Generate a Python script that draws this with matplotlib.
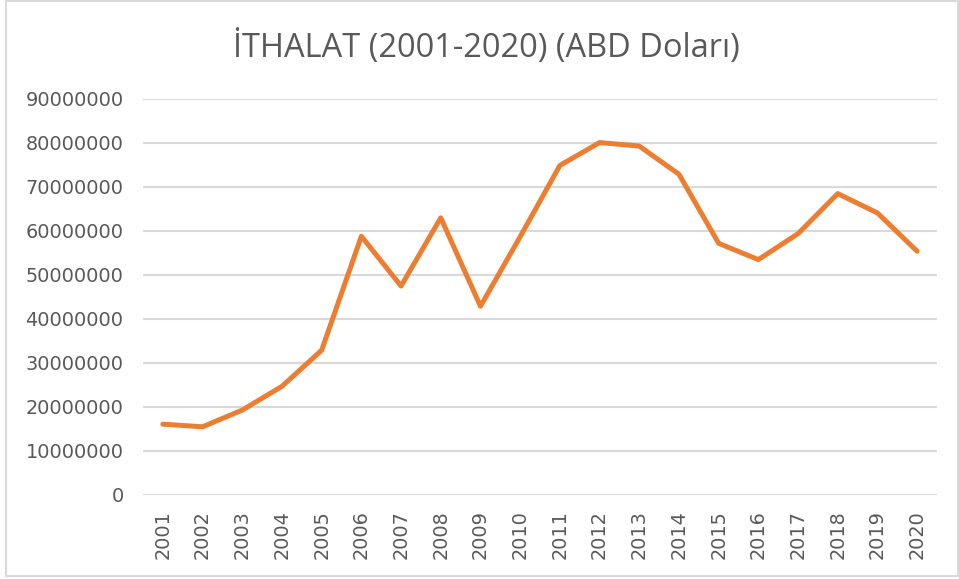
import matplotlib
matplotlib.use("Agg")
import matplotlib.pyplot as plt
from matplotlib.patches import Rectangle

years = ["2001", "2002", "2003", "2004", "2005", "2006", "2007", "2008", "2009", "2010",
         "2011", "2012", "2013", "2014", "2015", "2016", "2017", "2018", "2019", "2020"]
imports = [16100000, 15500000, 19300000, 24700000, 32900000, 58800000, 47500000, 63000000,
           42900000, 58700000, 74900000, 80100000, 79300000, 72900000, 57200000, 53500000,
           59400000, 68500000, 64100000, 55400000]
yticks = [0, 10000000, 20000000, 30000000, 40000000, 50000000, 60000000, 70000000, 80000000, 90000000]
title = "İTHALAT (2001-2020) (ABD Doları)"

W, H = 959, 579
fig = plt.figure(figsize=(W / 100, H / 100), dpi=100)
fig.patch.set_facecolor("white")

left, right, top, bottom = 143, 937, 99, 495
ax = fig.add_axes([left / W, 1 - bottom / H, (right - left) / W, (bottom - top) / H])

x = list(range(len(years)))
ax.plot(x, imports, color="#ED7D31", linewidth=3.6, solid_joinstyle="round", solid_capstyle="round", zorder=3)

ax.set_xlim(-0.5, len(years) - 0.5)
ax.set_ylim(0, 90000000)
ax.set_yticks(yticks)
ax.set_yticklabels([str(v) for v in yticks], family="DejaVu Sans", fontsize=13.9, color="#595959")
ax.set_xticks(x)
ax.set_xticklabels(years, rotation=90, family="DejaVu Sans", fontsize=13.9, color="#595959")
ax.grid(axis="y", color="#D9D9D9", linewidth=1.5, zorder=0)
ax.grid(axis="x", visible=False)
for s in ax.spines.values():
    s.set_visible(False)
ax.tick_params(axis="both", length=0)
ax.tick_params(axis="y", pad=14)
ax.tick_params(axis="x", pad=11)

fig.text(486 / W, 1 - 48 / H, title, ha="center", va="center", fontsize=23.5,
         color="#595959", family="Open Sans")

fig.patches.append(Rectangle((6 / W, 1 - 576 / H), (958 - 6) / W, (576 - 1) / H,
                             transform=fig.transFigure, fill=False,
                             edgecolor="#D9D9D9", linewidth=1.5))

fig.savefig("out.png", dpi=100, facecolor="white")
